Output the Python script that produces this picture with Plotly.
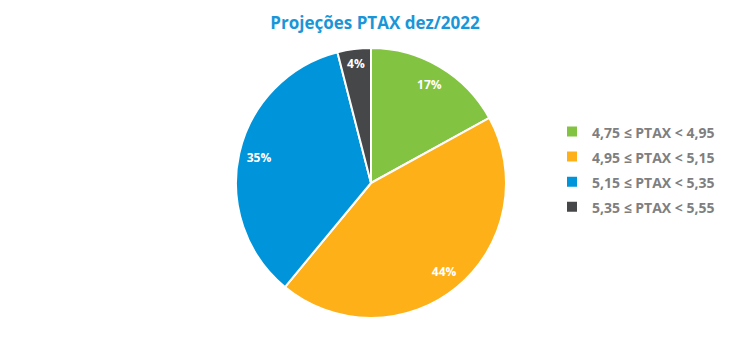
import plotly.graph_objects as go

labels = ["4,75 ≤ PTAX < 4,95", "4,95 ≤ PTAX < 5,15", "5,15 ≤ PTAX < 5,35", "5,35 ≤ PTAX < 5,55"]
values = [17, 44, 35, 4]
colors = ["#82C341", "#FDB018", "#0095DA", "#464749"]

legend_labels = [f"<span style='font-size:14px'><b>{l}</b></span>" for l in labels]
dom = dict(x=[(371-135)/750, (371+135)/750], y=[(172-135)/355, (172+135)/355])

fig = go.Figure()
fig.add_trace(go.Pie(
    labels=legend_labels, values=values, sort=False, direction="clockwise", rotation=0,
    marker=dict(colors=colors, line=dict(color="white", width=2)),
    textinfo="none", hoverinfo="label+percent", domain=dom,
))
# transparent ring carrying the percentage labels near the rim
fig.add_trace(go.Pie(
    labels=legend_labels, values=values, sort=False, direction="clockwise", rotation=0, hole=0.7,
    marker=dict(colors=["rgba(0,0,0,0)"] * len(values), line=dict(width=0)),
    texttemplate="<b>%{percent:.0%}</b>", textposition="inside", insidetextorientation="horizontal",
    textfont=dict(color="white", size=12, family="Open Sans"),
    showlegend=False, hoverinfo="skip", domain=dom,
))
fig.update_layout(
    width=750, height=355, margin=dict(l=0, r=0, t=0, b=0),
    paper_bgcolor="white", plot_bgcolor="white",
    title=dict(text="<b>Projeções PTAX dez/2022</b>", x=0.5, xanchor="center", y=0.935, yanchor="middle",
               font=dict(family="Open Sans", size=17, color="#1A96D8")),
    legend=dict(x=0.736, y=0.679, xanchor="left", yanchor="top",
                font=dict(family="Open Sans", size=17, color="#7F7F7F"),
                itemclick=False),
    uniformtext=dict(minsize=12, mode="show"),
    showlegend=True,
)
fig.write_html("out.html")
